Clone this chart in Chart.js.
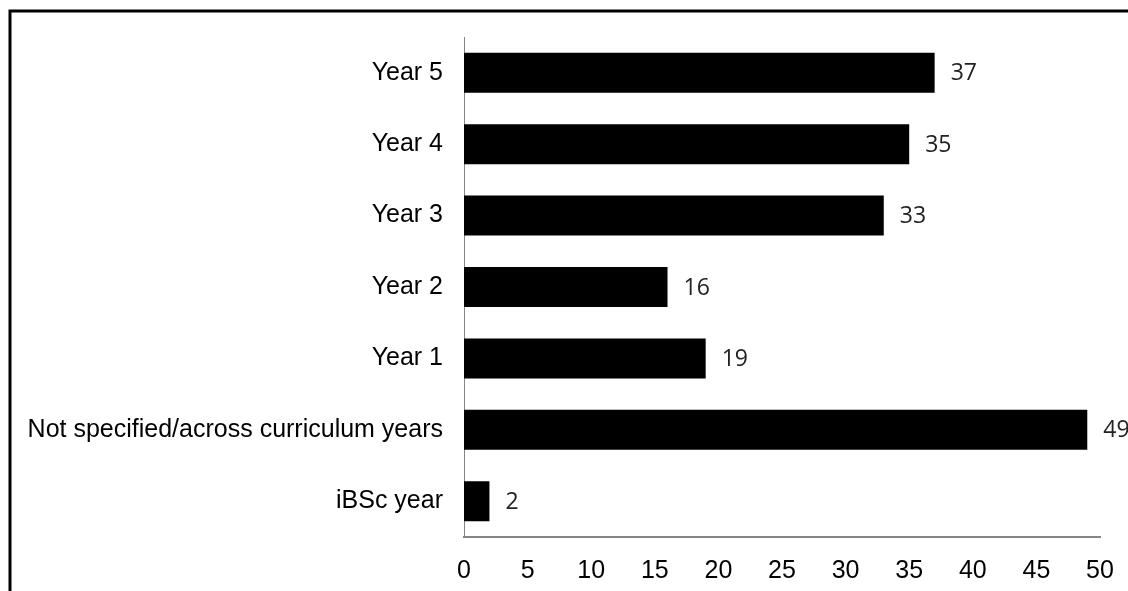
<!DOCTYPE html>
<html>
<head>
<meta charset="utf-8">
<script src="https://cdn.jsdelivr.net/npm/chart.js@4"></script>
<style>
  html, body { margin: 0; padding: 0; background: #fff; }
  canvas { display: block; }
</style>
</head>
<body>
<canvas id="yearChart" width="1128" height="591"></canvas>
<script>
var categories = ['Year 5', 'Year 4', 'Year 3', 'Year 2', 'Year 1', 'Not specified/across curriculum years', 'iBSc year'];
var counts = [37, 35, 33, 16, 19, 49, 2];
var xTicks = [0, 5, 10, 15, 20, 25, 30, 35, 40, 45, 50];

// frame line along top and left, as in the scanned figure
var framePlugin = {
    id: 'frame',
    beforeDraw: function (chart) {
        var ctx = chart.ctx;
        ctx.save();
        ctx.fillStyle = '#fff';
        ctx.fillRect(0, 0, chart.width, chart.height);
        ctx.strokeStyle = '#000';
        ctx.lineWidth = 3;
        ctx.beginPath();
        ctx.moveTo(10, chart.height);
        ctx.lineTo(10, 11);
        ctx.lineTo(chart.width, 11);
        ctx.stroke();
        ctx.restore();
    }
};

// value labels to the right of each bar
var valueLabels = {
    id: 'valueLabels',
    afterDatasetsDraw: function (chart) {
        var ctx = chart.ctx;
        var meta = chart.getDatasetMeta(0);
        ctx.save();
        ctx.font = '23px "Open Sans"';
        ctx.fillStyle = '#222';
        ctx.textAlign = 'left';
        ctx.textBaseline = 'middle';
        meta.data.forEach(function (bar, i) {
            ctx.fillText(String(counts[i]), bar.x + 16, bar.y + 1);
        });
        ctx.restore();
    }
};

var yearGraph = document.getElementById('yearChart').getContext('2d');
window.yearBar = new Chart(yearGraph, {
    type: 'bar',
    data: {
        labels: categories,
        datasets: [{
            data: counts,
            backgroundColor: '#000',
            borderWidth: 0,
            categoryPercentage: 1,
            barPercentage: 0.56
        }]
    },
    options: {
        indexAxis: 'y',
        responsive: false,
        devicePixelRatio: 1,
        animation: false,
        layout: {
            padding: { top: 37, right: 28, left: 0, bottom: 0 }
        },
        plugins: {
            legend: { display: false },
            title: { display: false },
            tooltip: { enabled: false }
        },
        scales: {
            x: {
                min: 0,
                max: 50,
                afterBuildTicks: function (scale) {
                    scale.ticks = xTicks.map(function (v) { return { value: v }; });
                },
                afterFit: function (scale) {
                    scale.height = 54;
                    scale.paddingLeft = 0;
                    scale.paddingRight = 0;
                },
                grid: { display: false, drawTicks: false },
                border: { display: true, color: '#868686', width: 2 },
                ticks: {
                    padding: 19,
                    color: '#000',
                    font: { family: '"Liberation Sans", Arial', size: 25 }
                }
            },
            y: {
                afterFit: function (scale) { scale.width = 464; },
                grid: { display: false, drawTicks: false },
                border: { display: true, color: '#868686', width: 1 },
                ticks: {
                    padding: 21,
                    color: '#000',
                    font: { family: '"Liberation Sans", Arial', size: 25 }
                }
            }
        }
    },
    plugins: [framePlugin, valueLabels]
});
</script>
</body>
</html>
